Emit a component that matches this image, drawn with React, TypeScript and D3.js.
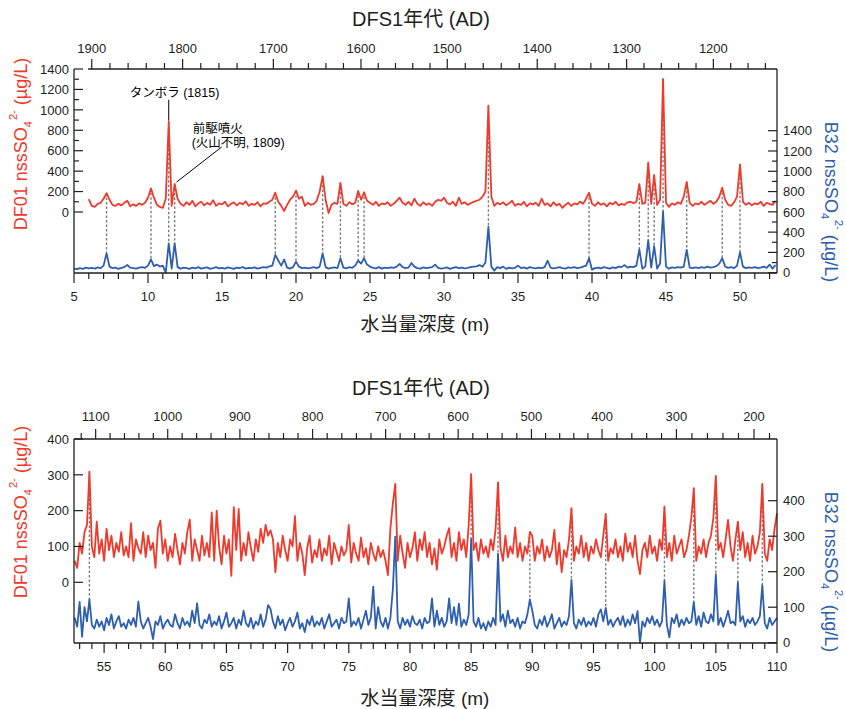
import * as d3 from "d3";
import React from "react";

// every series is sampled on a 0.2 m water-equivalent depth grid
const STEP = 0.2;

// ---- upper panel (5 - 52.5 m) ----
const topRedStart = 6.0;
const topRed = [
  127, 60, 50, 80, 90, 130, 185, 120, 70, 60, // 6.0
  80, 65, 90, 110, 55, 75, 60, 85, 70, 90, // 8.0
  140, 232, 140, 70, 50, 40, 130, 884, 60, 274, // 10.0
  130, 80, 60, 95, 70, 110, 55, 85, 100, 65, // 12.0
  90, 70, 115, 60, 85, 75, 100, 55, 80, 95, // 14.0
  65, 90, 75, 105, 60, 80, 70, 95, 55, 85, // 16.0
  80, 100, 120, 189, 100, 60, 10, 70, 120, 150, // 18.0
  209, 130, 150, 60, 90, 70, 80, 110, 200, 352, // 20.0
  120, -10, 70, 90, 80, 284, 80, 60, 95, 75, // 22.0
  90, 206, 120, 193, 110, 90, 70, 100, 60, 85, // 24.0
  75, 95, 60, 80, 110, 140, 90, 70, 100, 65, // 26.0
  130, 80, 60, 95, 70, 85, 60, 100, 120, 110, // 28.0
  140, 90, 75, 100, 60, 140, 80, 95, 70, 85, // 30.0
  100, 110, 120, 150, 200, 1040, 150, 60, 90, 75, // 32.0
  95, 65, 85, 110, 60, 80, 70, 100, 55, 85, // 34.0
  75, 90, 60, 130, 70, 85, 55, 95, 65, 80, // 36.0
  40, 70, 90, 60, 85, 75, 100, 80, 130, 189, // 38.0
  80, 60, 95, 70, 85, 55, 90, 75, 100, 65, // 40.0
  80, 70, 95, 100, 85, 100, 274, 80, 90, 483, // 42.0
  80, 362, 70, 120, 1302, 90, 50, 85, 70, 95, // 44.0
  80, 150, 294, 90, 60, 85, 75, 100, 70, 90, // 46.0
  110, 80, 100, 150, 238, 120, 70, 60, 95, 150, // 48.0
  467, 100, 70, 90, 65, 85, 75, 100, 60, 90, // 50.0
  80, 70, 110, // 52.0
];

const topBlueStart = 5.0;
const topBlue = [
  40, 35, 45, 38, 50, 42, 48, 40, 52, 45, // 5.0
  70, 191, 60, 45, 50, 38, 48, 55, 76, 50, // 7.0
  45, 40, 50, 55, 48, 70, 132, 65, 80, 60, // 9.0
  70, 0, 290, 40, 290, 55, 40, 50, 45, 38, // 11.0
  50, 42, 55, 40, 48, 52, 38, 45, 55, 42, // 13.0
  48, 40, 52, 45, 38, 50, 44, 56, 40, 48, // 15.0
  45, 52, 40, 48, 55, 50, 62, 70, 175, 120, // 17.0
  70, 130, 50, 40, 55, 109, 60, 45, 50, 42, // 19.0
  48, 55, 45, 60, 191, 55, 40, 48, 52, 45, // 21.0
  142, 50, 42, 55, 48, 70, 118, 90, 142, 80, // 23.0
  60, 48, 42, 55, 40, 50, 45, 52, 48, 60, // 25.0
  86, 55, 45, 50, 96, 60, 45, 40, 52, 45, // 27.0
  50, 55, 80, 48, 40, 45, 52, 38, 48, 55, // 29.0
  45, 50, 42, 48, 55, 60, 62, 75, 58, 100, // 31.0
  454, 60, 20, 55, 45, 60, 38, 50, 42, 48, // 33.0
  70, 45, 52, 40, 55, 48, 42, 50, 45, 55, // 35.0
  118, 50, 42, 48, 55, 45, 40, 52, 48, 55, // 37.0
  45, 50, 60, 70, 142, 30, 45, 50, 42, 55, // 39.0
  48, 40, 52, 45, 60, 55, 75, 50, 60, 55, // 41.0
  70, 230, 40, 60, 322, 50, 263, 40, 90, 601, // 43.0
  60, 40, 52, 48, 55, 50, 60, 224, 50, 45, // 45.0
  52, 45, 55, 48, 60, 50, 55, 65, 90, 142, // 47.0
  60, 48, 55, 45, 70, 201, 60, 45, 52, 48, // 49.0
  55, 45, 50, 60, 48, 80, 40, 76, // 51.0
];

// DFS1 age model tie points (year AD -> depth m)
const topAges = [1900, 1800, 1700, 1600, 1500, 1400, 1300, 1200];
const topAgeDepths = [6.2, 12.34, 18.47, 24.39, 30.22, 36.3, 42.34, 48.2];
// events matched between DF01 and B32
const topMatches = [7.2, 10.2, 11.4, 11.8, 18.6, 20.0, 21.8, 23.0, 24.2, 24.6, 33.0, 39.8, 43.2, 43.8, 44.2, 44.8, 46.4, 48.8, 50.0];

// ---- lower panel (52.5 - 110 m) ----
const botStart = 52.6;
const botRed = [
  60, 40, 110, 80, 140, 160, 309, 100, 70, 169, // 52.6
  80, 120, 60, 150, 90, 130, 70, 110, 85, 140, // 54.6
  75, 100, 70, 165, 60, 120, 95, 80, 140, 70, // 56.6
  130, 90, 110, 40, 150, 172, 80, 120, 60, 100, // 58.6
  70, 135, 90, 50, 110, 80, 140, 175, 60, 120, // 60.6
  90, 60, 130, 75, 110, 70, 195, 60, 200, 100, // 62.6
  50, 130, 80, 120, 18, 210, 90, 205, 60, 110, // 64.6
  75, 140, 95, 60, 120, 85, 150, 110, 160, 130, // 66.6
  145, 120, 28, 110, 70, 130, 90, 60, 120, 100, // 68.6
  185, 60, 110, 80, 20, 95, 130, 55, 90, 70, // 70.6
  120, 60, 95, 75, 130, 50, 110, 85, 60, 100, // 72.6
  75, 90, 160, 55, 110, 80, 60, 125, 70, 95, // 74.6
  50, 110, 80, 60, 100, 70, 90, 60, 20, 150, // 76.6
  220, 275, 60, 130, 80, 40, 110, 70, 95, 140, // 78.6
  60, 120, 90, 140, 70, 110, 50, 95, 35, 120, // 80.6
  80, 100, 130, 151, 70, 110, 60, 140, 90, 120, // 82.6
  70, 160, 302, 90, 110, 60, 120, 80, 100, 70, // 84.6
  120, 90, 150, 279, 95, 60, 130, 70, 100, 80, // 86.6
  153, 70, 110, 60, 100, 80, 141, 130, 60, 100, // 88.6
  80, 120, 60, 100, 70, 90, 146, 50, 110, 28, // 90.6
  90, 70, 120, 207, 60, 100, 80, 130, 70, 110, // 92.6
  60, 100, 80, 120, 90, 70, 130, 191, 60, 95, // 94.6
  80, 120, 70, 100, 60, 136, 85, 110, 70, 130, // 96.6
  60, 23, 90, 110, 70, 130, 80, 100, 60, 120, // 98.6
  90, 211, 70, 110, 60, 130, 80, 100, 120, 70, // 100.6
  90, 130, 180, 263, 60, 100, 80, 120, 70, 110, // 102.6
  130, 180, 297, 90, 110, 70, 120, 174, 100, 60, // 104.6
  120, 169, 90, 140, 70, 110, 60, 130, 80, 100, // 106.6
  140, 275, 80, 60, 120, 90, 150, 193, // 108.6
];

const botBlue = [
  70, 45, 115, 17, 100, 60, 122, 50, 40, 65, // 52.6
  45, 60, 35, 70, 50, 80, 40, 60, 75, 45, // 54.6
  55, 40, 65, 50, 70, 45, 116, 60, 40, 55, // 56.6
  70, 45, 10, 60, 50, 75, 40, 55, 65, 50, // 58.6
  45, 80, 55, 40, 70, 50, 60, 45, 90, 55, // 60.6
  111, 50, 40, 65, 55, 80, 45, 60, 50, 75, // 62.6
  40, 60, 85, 45, 55, 70, 40, 65, 50, 90, // 64.6
  55, 45, 70, 40, 60, 50, 80, 45, 65, 106, // 66.6
  95, 60, 40, 75, 50, 65, 35, 55, 70, 45, // 68.6
  60, 85, 40, 55, 30, 65, 50, 75, 45, 60, // 70.6
  50, 70, 40, 60, 80, 45, 55, 65, 40, 70, // 72.6
  55, 60, 125, 45, 60, 50, 70, 40, 65, 90, // 74.6
  50, 70, 158, 40, 100, 60, 45, 70, 40, 70, // 76.6
  150, 299, 60, 40, 70, 50, 65, 45, 75, 55, // 78.6
  50, 65, 40, 70, 55, 60, 125, 45, 90, 50, // 80.6
  70, 45, 60, 125, 55, 100, 50, 110, 45, 65, // 82.6
  50, 80, 292, 60, 45, 70, 40, 55, 35, 60, // 84.6
  45, 70, 50, 251, 60, 80, 45, 90, 55, 65, // 86.6
  45, 70, 40, 60, 55, 80, 122, 90, 50, 40, // 88.6
  65, 50, 75, 45, 60, 80, 40, 55, 70, 45, // 90.6
  60, 50, 75, 177, 55, 40, 65, 50, 70, 45, // 92.6
  60, 50, 70, 45, 80, 94, 60, 98, 50, 65, // 94.6
  45, 60, 70, 50, 75, 45, 65, 50, 80, 55, // 96.6
  89, 0, 60, 45, 70, 55, 75, 50, 65, 45, // 98.6
  60, 174, 50, 15, 70, 55, 80, 45, 65, 50, // 100.6
  70, 55, 60, 114, 50, 75, 45, 85, 60, 55, // 102.6
  80, 60, 193, 50, 70, 45, 65, 90, 55, 60, // 104.6
  50, 170, 60, 75, 45, 65, 55, 70, 50, 60, // 106.6
  75, 162, 55, 40, 70, 50, 60, 70, // 108.6
];

const botAges = [1100, 1000, 900, 800, 700, 600, 500, 400, 300, 200];
const botAgeDepths = [54.31, 60.2, 66.1, 72.04, 78.01, 83.94, 89.93, 95.7, 101.78, 108.12];
const botMatches = [53.8, 85.0, 87.2, 89.8, 93.2, 96.0, 100.8, 103.2, 105.0, 106.8, 108.8];

const RED = "#ee3a2c";
const BLUE = "#2e5faf";
const INK = "#231f20";
const FONT = "'Liberation Sans', Arial, Helvetica, 'Noto Sans CJK JP', sans-serif";

type PanelProps = {
  red: number[];
  redStart: number;
  blue: number[];
  blueStart: number;
  xDomain: [number, number];
  yMax: number;
  redRange: [number, number];
  blueRange: [number, number];
  bottom: number;
  valueTicks: number[];
  isMajorValue: (v: number) => boolean;
  depthTicks: number[];
  ages: number[];
  ageDepths: number[];
  ageTicks: number[];
  ageStartDepth: number;
  matches: number[];
  titleY: number;
  yearLabelY: number;
  depthLabelY: number;
  xTitleY: number;
  leftTitleY: number;
  rightTitleY: number;
  extra?: (x: d3.ScaleLinear<number, number>, yr: d3.ScaleLinear<number, number>, red: number[]) => React.ReactNode;
};

function Panel(p: PanelProps) {
  const x = d3.scaleLinear().domain(p.xDomain).range([74, 777]);
  const yr = d3.scaleLinear().domain([0, p.yMax]).range(p.redRange);
  const yb = d3.scaleLinear().domain([0, p.yMax]).range(p.blueRange);
  const ageToDepth = d3.scaleLinear().domain(p.ages).range(p.ageDepths);

  const left = x(p.xDomain[0]);
  const right = x(p.xDomain[1]);
  const top = yr(p.yMax);
  const bottom = p.bottom;
  const ageLeft = x(p.ageStartDepth);

  const redPath = d3
    .line<number>()
    .x((_, i) => x(p.redStart + i * STEP))
    .y((v) => yr(v))(p.red);
  const bluePath = d3
    .line<number>()
    .x((_, i) => x(p.blueStart + i * STEP))
    .y((v) => yb(v))(p.blue);

  const label = (
    prefix: string,
    anchor: [number, number],
    rot: number,
    color: string,
    subDy: number,
    supDy: number
  ) => (
    <text
      transform={`translate(${anchor[0]},${anchor[1]}) rotate(${rot})`}
      textAnchor="middle"
      fontSize={18}
      fill={color}
    >
      {prefix} nssSO
      <tspan dy={subDy} fontSize={11}>4</tspan>
      <tspan dx={1} dy={supDy} fontSize={11}>2-</tspan>
      <tspan dy={-(subDy + supDy)}> (µg/L)</tspan>
    </text>
  );

  return (
    <g fontFamily={FONT}>
      {/* dashed tie lines between matched peaks */}
      {p.matches.map((d) => {
        const ri = Math.round((d - p.redStart) / STEP);
        const bi = Math.round((d - p.blueStart) / STEP);
        return (
          <line
            key={d}
            x1={x(d)}
            x2={x(d)}
            y1={yr(p.red[ri])}
            y2={yb(p.blue[bi])}
            stroke="#7d7d7d"
            strokeWidth={1.4}
            strokeDasharray="2.5 2"
          />
        );
      })}

      <path d={redPath ?? ""} fill="none" stroke={RED} strokeWidth={1.8} strokeLinejoin="round" />
      <path d={bluePath ?? ""} fill="none" stroke={BLUE} strokeWidth={1.8} strokeLinejoin="round" />

      {/* frame */}
      <g stroke={INK} strokeWidth={1.3}>
        <line x1={left} x2={left} y1={top} y2={bottom} />
        <line x1={right} x2={right} y1={top} y2={bottom} />
        <line x1={left} x2={right} y1={bottom} y2={bottom} />
        <line x1={ageLeft} x2={right} y1={top} y2={top} />
      </g>

      {/* top age axis */}
      {p.ageTicks.map((a) => {
        const ax = x(ageToDepth(a));
        if (ax < ageLeft - 0.5 || ax > right + 0.5) return null;
        const major = a % 100 === 0;
        return (
          <g key={a}>
            <line x1={ax} x2={ax} y1={top} y2={top - (major ? 10 : 6)} stroke={INK} strokeWidth={1.2} />
            {major && (
              <text x={ax} y={p.yearLabelY} textAnchor="middle" fontSize={13} fill={INK}>
                {a}
              </text>
            )}
          </g>
        );
      })}
      <text x={421} y={p.titleY} textAnchor="middle" fontSize={20} fill={INK}>
        DFS1年代 (AD)
      </text>

      {/* bottom depth axis */}
      {p.depthTicks.map((d) => {
        const major = d % 5 === 0;
        return (
          <g key={d}>
            <line x1={x(d)} x2={x(d)} y1={bottom} y2={bottom + (major ? 10 : 6)} stroke={INK} strokeWidth={1.2} />
            {major && (
              <text x={x(d)} y={p.depthLabelY} textAnchor="middle" fontSize={13} fill={INK}>
                {d}
              </text>
            )}
          </g>
        );
      })}
      <text x={425} y={p.xTitleY} textAnchor="middle" fontSize={19} fill={INK}>
        水当量深度 (m)
      </text>

      {/* left (DF01) and right (B32) value axes */}
      {p.valueTicks.map((v) => {
        const major = p.isMajorValue(v);
        return (
          <g key={v}>
            <line x1={left} x2={left + (major ? 9 : 5)} y1={yr(v)} y2={yr(v)} stroke={INK} strokeWidth={1.2} />
            <line x1={right} x2={right - (major ? 9 : 5)} y1={yb(v)} y2={yb(v)} stroke={INK} strokeWidth={1.2} />
            {major && (
              <>
                <text x={left - 5} y={yr(v)} dy="0.36em" textAnchor="end" fontSize={13} fill={INK}>
                  {v}
                </text>
                <text x={right + 6} y={yb(v)} dy="0.36em" textAnchor="start" fontSize={13} fill={INK}>
                  {v}
                </text>
              </>
            )}
          </g>
        );
      })}
      {label("DF01", [27, p.leftTitleY], -90, RED, 5, -15)}
      {label("B32", [825, p.rightTitleY], 90, BLUE, 4, -14)}

      {p.extra && p.extra(x, yr, p.red)}
    </g>
  );
}

function topNotes(x: d3.ScaleLinear<number, number>, yr: d3.ScaleLinear<number, number>, red: number[]) {
  const tDepth = 11.4;
  const pDepth = 11.8;
  const tx = x(tDepth);
  const ty = yr(red[Math.round((tDepth - topRedStart) / STEP)]);
  const px = x(pDepth);
  const py = yr(red[Math.round((pDepth - topRedStart) / STEP)]);
  return (
    <g fontFamily={FONT} fontSize={12.5} fill="#000">
      <line x1={tx} x2={tx} y1={ty - 1} y2={ty - 22} stroke="#000" strokeWidth={1} />
      <text x={tx - 39} y={ty - 25}>タンボラ (1815)</text>
      <line x1={px + 2} x2={px + 47} y1={py - 2} y2={py - 37} stroke="#000" strokeWidth={1} />
      <text x={px + 18} y={py - 51}>前駆噴火</text>
      <text x={px + 17} y={py - 37}>(火山不明, 1809)</text>
    </g>
  );
}

export default function App() {
  return (
    <svg
      width={846}
      height={709}
      viewBox="0 0 846 709"
      style={{ position: "absolute", left: 0, top: 0, background: "#fff" }}
    >
      <Panel
        red={topRed}
        redStart={topRedStart}
        blue={topBlue}
        blueStart={topBlueStart}
        xDomain={[5, 52.5]}
        yMax={1400}
        redRange={[212, 69]}
        blueRange={[272.7, 130.7]}
        bottom={273}
        valueTicks={d3.range(0, 1401, 100)}
        isMajorValue={(v) => v % 200 === 0}
        depthTicks={d3.range(5, 53, 1)}
        ages={topAges}
        ageDepths={topAgeDepths}
        ageTicks={d3.range(1900, 1139, -20)}
        ageStartDepth={5.95}
        matches={topMatches}
        titleY={26}
        yearLabelY={52.5}
        depthLabelY={301}
        xTitleY={331}
        leftTitleY={144}
        rightTitleY={202}
        extra={topNotes}
      />
      <Panel
        red={botRed}
        redStart={botStart}
        blue={botBlue}
        blueStart={botStart}
        xDomain={[52.54, 110]}
        yMax={400}
        redRange={[582.3, 439]}
        blueRange={[642.7, 500.7]}
        bottom={643}
        valueTicks={d3.range(0, 401, 100)}
        isMajorValue={() => true}
        depthTicks={d3.range(53, 111, 1)}
        ages={botAges}
        ageDepths={botAgeDepths}
        ageTicks={d3.range(1120, 179, -20)}
        ageStartDepth={52.54}
        matches={botMatches}
        titleY={395}
        yearLabelY={420.7}
        depthLabelY={671}
        xTitleY={705}
        leftTitleY={512}
        rightTitleY={572}
      />
    </svg>
  );
}
